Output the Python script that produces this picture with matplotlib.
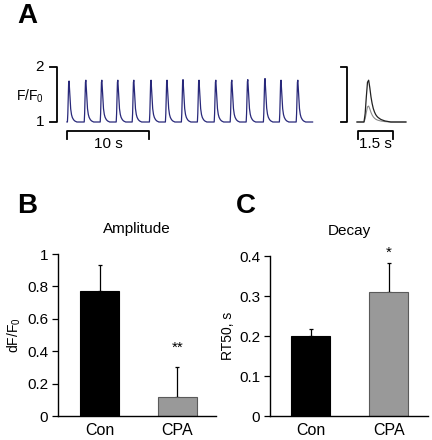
import numpy as np
import matplotlib
matplotlib.use("Agg")
import matplotlib.pyplot as plt

plt.rcParams['font.family'] = ['Liberation Sans', 'DejaVu Sans']
plt.rcParams['mathtext.fontset'] = 'custom'
plt.rcParams['mathtext.rm'] = 'Liberation Sans'
plt.rcParams['mathtext.it'] = 'Liberation Sans'

# --- data ---
# panel A: spontaneous transients (time of peak in s, peak F/F0)
peak_t = [0.25, 2.3, 4.25, 6.2, 8.15, 10.25, 12.2, 14.15, 16.1, 18.15, 20.1, 22.05, 24.15, 26.1, 28.15]
peak_v = [1.745, 1.76, 1.76, 1.76, 1.76, 1.76, 1.76, 1.77, 1.76, 1.76, 1.76, 1.77, 1.79, 1.76, 1.76]
# one transient, fraction of amplitude, sampled every 50 ms from onset
shape = [0, 0.2, 0.6, 0.95, 1.0, 0.82, 0.6, 0.44, 0.32, 0.24, 0.18, 0.14, 0.11,
         0.09, 0.07, 0.055, 0.045, 0.035, 0.025, 0.02, 0.015, 0.01, 0.005, 0]
trace_len = 30.0
dt = 0.05
# inset: averaged transient, control (black) and CPA (grey)
inset_peak_t = 0.5
inset_con = 1.76
inset_cpa = 1.29
inset_len = 2.15

# panels B and C
groups = ['Con', 'CPA']
amp_mean = [0.77, 0.12]
amp_err = [0.165, 0.18]
decay_mean = [0.20, 0.31]
decay_err = [0.018, 0.072]

FS = 11


def build_trace(t_peaks, v_peaks, length):
    t = np.arange(0, length, dt)
    y = np.ones_like(t)
    for tp, vp in zip(t_peaks, v_peaks):
        i0 = int(round(tp / dt)) - 4
        for k, s in enumerate(shape):
            if 0 <= i0 + k < len(y):
                y[i0 + k] += (vp - 1) * s
    return t, y


W, H = 432, 440
fig = plt.figure(figsize=(W / 100, H / 100), dpi=100)


def px_axes(x0, y0, x1, y1):
    return fig.add_axes([x0 / W, 1 - y1 / H, (x1 - x0) / W, (y1 - y0) / H])


# ---- panel A, main trace ----
sx = 8.2  # px per second
ax = px_axes(20, 60, 320, 150)
ax.set_xlim((20 - 67) / sx, (320 - 67) / sx)
ax.set_ylim(1 + (122 - 150) / 55, 1 + (122 - 60) / 55)
ax.axis('off')
t, y = build_trace(peak_t, peak_v, trace_len)
ax.plot(t, y, color='#28287a', lw=0.9)
bx = (57 - 67) / sx
tk = 7 / sx
ax.plot([bx - tk, bx, bx, bx - tk], [2, 2, 1, 1], color='black', lw=1.3, clip_on=False)
ax.text((44 - 67) / sx, 2, '2', ha='right', va='center', fontsize=FS)
ax.text((44 - 67) / sx, 1, '1', ha='right', va='center', fontsize=FS)
ax.text((30 - 67) / sx, 1.47, 'F/F$_0$', ha='center', va='center', fontsize=FS - 1, clip_on=False)
ax.plot([0, 0, 10, 10], [0.69, 0.83, 0.83, 0.69], color='black', lw=1.3)
ax.text(5, 0.6, '10 s', ha='center', va='center', fontsize=FS)

# ---- panel A, inset ----
si = 23.3
axi = px_axes(330, 60, 420, 150)
axi.set_xlim((330 - 357) / si, (420 - 357) / si)
axi.set_ylim(1 + (122 - 150) / 55, 1 + (122 - 60) / 55)
axi.axis('off')
ti, yi = build_trace([inset_peak_t], [inset_cpa], inset_len)
axi.plot(ti, yi, color='#8a8a8a', lw=0.8)
ti, yi = build_trace([inset_peak_t], [inset_con], inset_len)
axi.plot(ti, yi, color='#222222', lw=0.9)
bx = (347 - 357) / si
tk = 6 / si
axi.plot([bx - tk, bx, bx, bx - tk], [2, 2, 1, 1], color='black', lw=1.3, clip_on=False)
s0 = (358 - 357) / si
axi.plot([s0, s0, s0 + 1.5, s0 + 1.5], [0.69, 0.83, 0.83, 0.69], color='black', lw=1.3)
axi.text(s0 + 0.75, 0.6, '1.5 s', ha='center', va='center', fontsize=FS)


def bar_panel(axb, means, errs, ylim, ticks, labels, ylabel, title, star, star_y):
    x = np.arange(len(groups))
    axb.bar(x, means, width=0.5, color=['black', '#999999'],
            edgecolor=['black', '#5a5a5a'], linewidth=0.8, zorder=2)
    axb.errorbar(x, means, yerr=[np.zeros(len(errs)), errs], fmt='none',
                 ecolor='black', elinewidth=0.9, capsize=1.5, capthick=0.9, zorder=1)
    axb.set_ylim(*ylim)
    axb.set_yticks(ticks)
    axb.set_yticklabels(labels, fontsize=FS)
    axb.set_xticks(x)
    axb.set_xticklabels(groups, fontsize=FS + 0.5)
    axb.tick_params(axis='x', length=0, pad=5)
    axb.tick_params(axis='y', length=4, width=0.9, direction='out', pad=3)
    for s in ['top', 'right']:
        axb.spines[s].set_visible(False)
    for s in ['left', 'bottom']:
        axb.spines[s].set_linewidth(1.0)
    axb.set_ylabel(ylabel, fontsize=FS - 1, labelpad=3)
    axb.text(1, star_y, star, ha='center', va='center', fontsize=FS)
    axb.set_title(title, fontsize=FS, pad=15)


# ---- panel B ----
axB = px_axes(58, 254, 216, 416)
axB.set_xlim(-0.535, 1.5)
bar_panel(axB, amp_mean, amp_err, (0, 1), [0, 0.2, 0.4, 0.6, 0.8, 1],
          ['0', '0.2', '0.4', '0.6', '0.8', '1'], 'dF/F$_0$', 'Amplitude', '**', 0.42)

# ---- panel C ----
axC = px_axes(270, 256, 428, 416)
axC.set_xlim(-0.525, 1.5)
bar_panel(axC, decay_mean, decay_err, (0, 0.4), [0, 0.1, 0.2, 0.3, 0.4],
          ['0', '0.1', '0.2', '0.3', '0.4'], 'RT50, s', 'Decay', '*', 0.408)

fig.text(17 / W, 1 - 16 / H, 'A', fontsize=20, fontweight='bold', va='center')
fig.text(17 / W, 1 - 206 / H, 'B', fontsize=20, fontweight='bold', va='center')
fig.text(236 / W, 1 - 206 / H, 'C', fontsize=20, fontweight='bold', va='center')

fig.savefig('out.png', dpi=100)
